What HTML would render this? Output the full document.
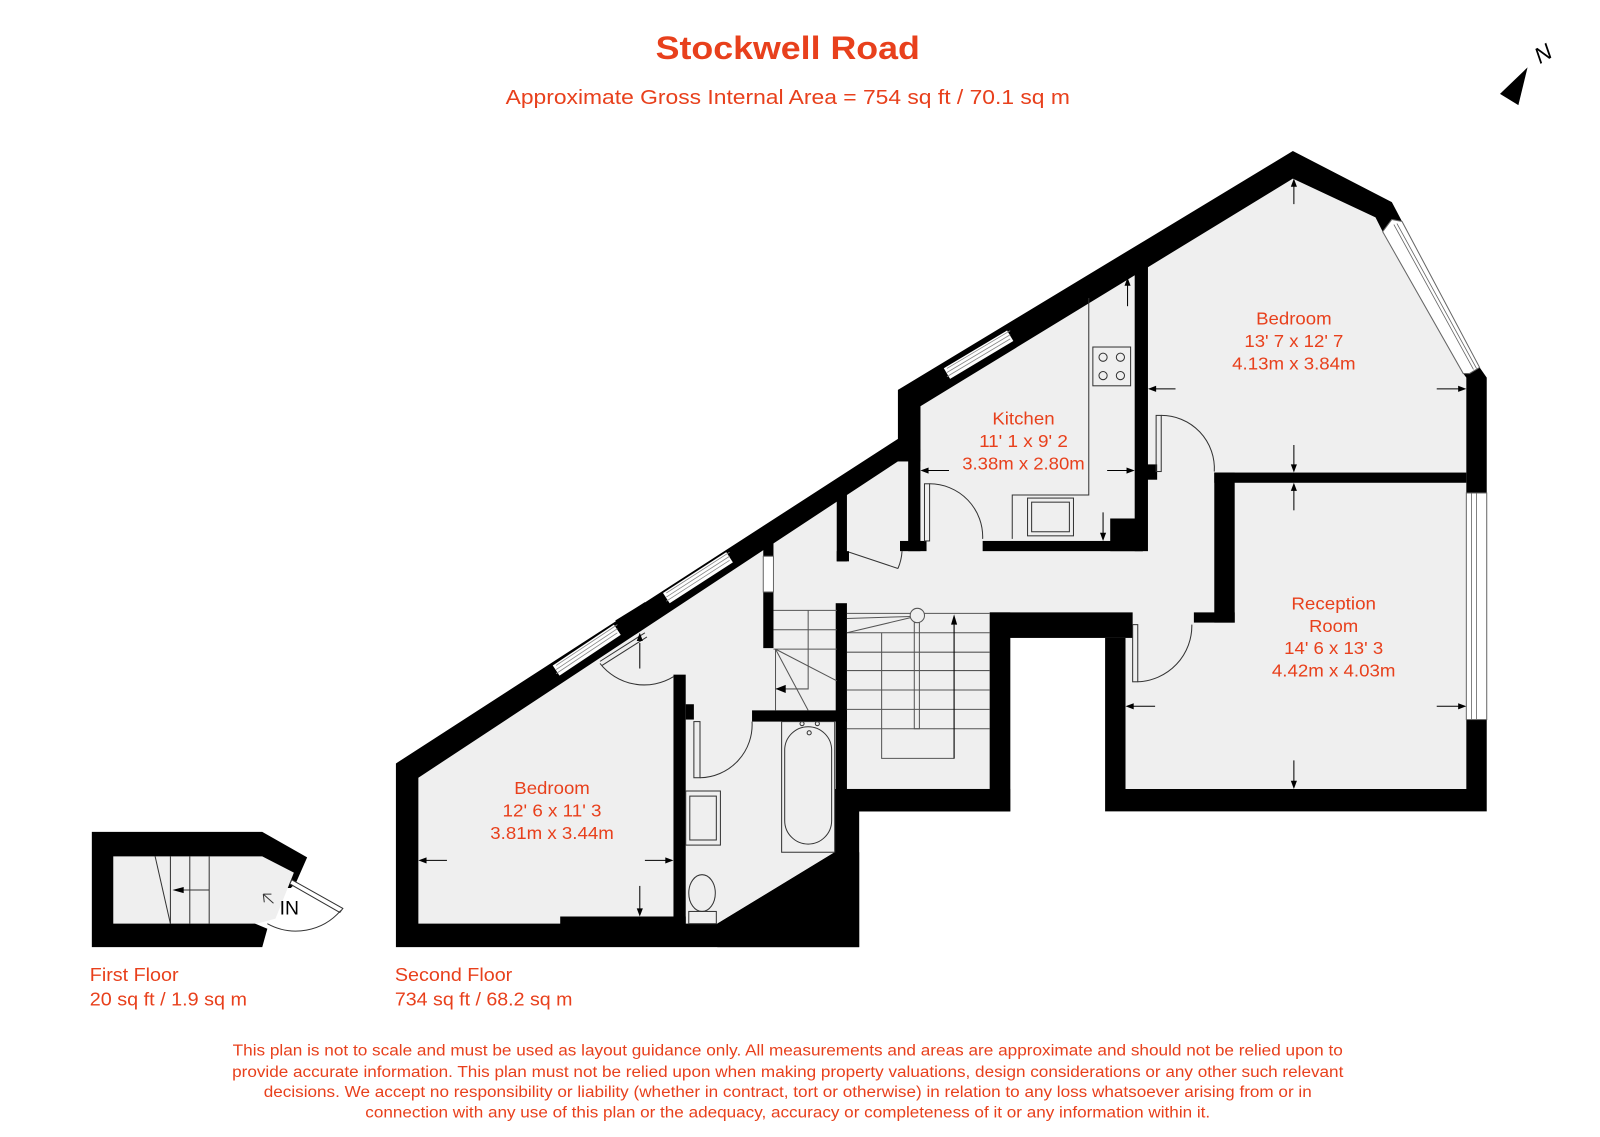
<!DOCTYPE html>
<html><head><meta charset="utf-8"><style>
html,body{margin:0;padding:0;background:#fff;}
svg{display:block;}
text{font-family:"Liberation Sans",sans-serif;fill:#e8401c;}
</style></head><body>
<svg width="1600" height="1137" viewBox="0 0 1568 1114" preserveAspectRatio="none" xmlns="http://www.w3.org/2000/svg">
<rect width="1568" height="1114" fill="#fff"/>
<text x="772" y="58" font-size="32" font-weight="bold" text-anchor="middle" textLength="259" lengthAdjust="spacingAndGlyphs">Stockwell Road</text>
<text x="772" y="102" font-size="20" text-anchor="middle" textLength="553" lengthAdjust="spacingAndGlyphs">Approximate Gross Internal Area = 754 sq ft / 70.1 sq m</text>
<polygon points="1470,92 1497,66 1488,103" fill="#000"/>
<text x="1512" y="60" font-size="22" font-style="italic" style="fill:#000" text-anchor="middle" transform="rotate(-30 1512 52)">N</text>

<polygon fill="#000" points="388,928 842,928 842,795 990,795 990,625 1083,625 1083,795 1457,795 1457,370 1450,360 1374,217 1364,198 1267,148 880,382 880,430 388,748"/>
<polygon fill="#efefef" points="410,905 410,762 880,452 902,452 902,398 1267,175 1348,213 1355,227 1434,366 1437,370 1437,773 1103,773 1103,625 970,625 970,773 830,773 818,773 818,835 703,905 672,905 672,898 549,898 549,905"/>
<g fill="#000">
<rect x="880" y="382" width="22" height="70"/>
<rect x="890" y="440" width="12" height="100"/>
<rect x="820" y="483" width="10" height="67"/>
<rect x="820" y="540" width="12" height="10"/>
<rect x="882" y="530" width="26" height="10"/>
<rect x="963" y="530" width="157" height="10"/>
<rect x="1088" y="508" width="32" height="32"/>
<rect x="1112" y="258" width="13" height="282"/>
<rect x="1120" y="455" width="14" height="15"/>
<rect x="1190" y="463" width="247" height="10"/>
<rect x="1190" y="463" width="20" height="147"/>
<rect x="1170" y="600" width="40" height="10"/>
<rect x="970" y="600" width="140" height="25"/>
<rect x="970" y="600" width="20" height="195"/>
<rect x="830" y="773" width="160" height="22"/>
<rect x="819" y="591" width="11" height="204"/>
<rect x="748" y="580" width="10" height="55"/>
<rect x="748" y="528" width="10" height="17"/>
<rect x="737" y="696" width="93" height="11"/>
<rect x="660" y="661" width="12" height="244"/>
<rect x="672" y="690" width="8" height="15"/>
<polygon points="703,905 818,835 842,835 842,928 703,928"/>
<polygon points="603,608 632,590 640,603 630,612 612,622"/>
</g>
<g stroke-linecap="butt">
<line x1="545" y1="657" x2="605" y2="617" stroke="#fff" stroke-width="12"/>
<line x1="545" y1="652" x2="605" y2="612" stroke="#888" stroke-width="0.8"/>
<line x1="545" y1="656" x2="605" y2="616" stroke="#888" stroke-width="0.8"/>
<line x1="545" y1="660" x2="605" y2="620" stroke="#888" stroke-width="0.8"/>
<line x1="653" y1="586" x2="715" y2="546" stroke="#fff" stroke-width="12"/>
<line x1="653" y1="581" x2="715" y2="541" stroke="#888" stroke-width="0.8"/>
<line x1="653" y1="585" x2="715" y2="545" stroke="#888" stroke-width="0.8"/>
<line x1="653" y1="589" x2="715" y2="549" stroke="#888" stroke-width="0.8"/>
<line x1="928" y1="366" x2="990" y2="329" stroke="#fff" stroke-width="12"/>
<line x1="928" y1="361" x2="990" y2="324" stroke="#888" stroke-width="0.8"/>
<line x1="928" y1="365" x2="990" y2="328" stroke="#888" stroke-width="0.8"/>
<line x1="928" y1="369" x2="990" y2="332" stroke="#888" stroke-width="0.8"/>
</g>
<polygon points="1364,215 1374,217 1450,360 1440,366 1434,366 1355,227" fill="#fff" stroke="#666" stroke-width="1"/>
<line x1="1366" y1="220" x2="1444" y2="362" stroke="#666" stroke-width="0.8"/>
<line x1="1369" y1="219" x2="1447" y2="361" stroke="#666" stroke-width="0.8"/>
<rect x="1437" y="483" width="20" height="222" fill="#fff" stroke="#666" stroke-width="1"/>
<line x1="1442" y1="483" x2="1442" y2="705" stroke="#666" stroke-width="0.8"/>
<line x1="1447" y1="483" x2="1447" y2="705" stroke="#666" stroke-width="0.8"/>
<rect x="748" y="545" width="10" height="35" fill="#fff" stroke="#666" stroke-width="1"/>

<g fill="none" stroke="#333" stroke-width="1">
<polyline points="1067,292 1067,485 992,485 992,528"/>
<rect x="1071" y="340" width="37" height="38"/>
<circle cx="1081" cy="350" r="4"/><circle cx="1098" cy="350" r="4"/>
<circle cx="1081" cy="368" r="4"/><circle cx="1098" cy="368" r="4"/>
<rect x="1007" y="488" width="45" height="37"/>
<rect x="1011" y="492" width="37" height="29"/>
<rect x="906" y="474" width="5" height="56"/>
<path d="M911,474 A52,52 0 0 1 963,528"/>
<line x1="832" y1="541" x2="880" y2="557"/>
<path d="M880,557 A50,50 0 0 0 884,540"/>
<rect x="1133" y="407" width="5" height="55"/>
<path d="M1138,407 A52,52 0 0 1 1190,462"/>
<rect x="1110" y="612" width="5" height="56"/>
<path d="M1115,668 A55,55 0 0 0 1168,612"/>
<line x1="588" y1="648" x2="632" y2="620"/><line x1="590" y1="652" x2="634" y2="624"/>
<path d="M588,650 A55,55 0 0 0 660,663"/>
<rect x="680" y="707" width="6" height="55"/>
<path d="M686,762 A52,52 0 0 0 737,707"/>
<rect x="766" y="707" width="52" height="128"/>
<rect x="769" y="712" width="46" height="115" rx="23"/>
<circle cx="786" cy="709" r="2"/><circle cx="801" cy="709" r="2"/><circle cx="793" cy="718" r="2"/>
<rect x="672" y="775" width="34" height="53"/>
<rect x="676" y="780" width="26" height="43"/>
<ellipse cx="688" cy="875" rx="13" ry="18"/>
<rect x="675" y="893" width="27" height="12"/>
<g stroke="#555">
<line x1="830" y1="601" x2="970" y2="601"/>
<line x1="830" y1="606" x2="893" y2="604"/>
<line x1="830" y1="620" x2="893" y2="605"/>
<line x1="830" y1="620" x2="970" y2="620"/>
<line x1="830" y1="639" x2="970" y2="639"/>
<line x1="830" y1="657" x2="970" y2="657"/>
<line x1="830" y1="676" x2="970" y2="676"/>
<line x1="830" y1="695" x2="970" y2="695"/>
<line x1="830" y1="714" x2="970" y2="714"/>
<polyline points="864,620 864,743 935,743 935,612"/>
<rect x="896" y="610" width="5" height="104"/>
<circle cx="899" cy="603" r="7" fill="#efefef"/>
<line x1="758" y1="598" x2="820" y2="598"/>
<line x1="758" y1="617" x2="820" y2="617"/>
<line x1="758" y1="636" x2="820" y2="636"/>
<polyline points="792,598 792,675 760,675"/>
<line x1="760" y1="636" x2="820" y2="667"/>
<line x1="760" y1="636" x2="792" y2="696"/>
<line x1="760" y1="636" x2="760" y2="696"/>
</g>
<g stroke="#000">
<line x1="1268" y1="178" x2="1268" y2="200"/><line x1="1268" y1="436" x2="1268" y2="460"/>
<line x1="1127" y1="381" x2="1152" y2="381"/><line x1="1408" y1="381" x2="1434" y2="381"/>
<line x1="1268" y1="476" x2="1268" y2="500"/><line x1="1268" y1="745" x2="1268" y2="770"/>
<line x1="1106" y1="692" x2="1132" y2="692"/><line x1="1408" y1="692" x2="1434" y2="692"/>
<line x1="905" y1="461" x2="930" y2="461"/><line x1="1085" y1="461" x2="1110" y2="461"/>
<line x1="1105" y1="275" x2="1105" y2="300"/><line x1="1081" y1="502" x2="1081" y2="527"/>
<line x1="413" y1="843" x2="438" y2="843"/><line x1="632" y1="843" x2="658" y2="843"/>
<line x1="627" y1="868" x2="627" y2="895"/><line x1="627" y1="630" x2="627" y2="655"/>
<line x1="935" y1="612" x2="935" y2="743"/>
</g>
</g>
<g fill="#000">
<polygon points="1268,175 1265,183 1271,183"/><polygon points="1268,463 1265,455 1271,455"/>
<polygon points="1125,381 1133,378 1133,384"/><polygon points="1437,381 1429,378 1429,384"/>
<polygon points="1268,473 1265,481 1271,481"/><polygon points="1268,773 1265,765 1271,765"/>
<polygon points="1103,692 1111,689 1111,695"/><polygon points="1437,692 1429,689 1429,695"/>
<polygon points="902,461 910,458 910,464"/><polygon points="1112,461 1104,458 1104,464"/>
<polygon points="1105,272 1102,280 1108,280"/><polygon points="1081,530 1078,522 1084,522"/>
<polygon points="410,843 418,840 418,846"/><polygon points="660,843 652,840 652,846"/>
<polygon points="627,898 624,890 630,890"/><polygon points="627,620 624,628 630,628"/>
<polygon points="935,602 932,612 938,612"/><polygon points="760,675 770,671 770,679"/>
</g>

<polygon fill="#000" points="90,815 257,815 301,840 290,865 285,870 270,870 270,880 250,905 262,910 257,928 90,928"/>
<polygon fill="#efefef" points="111,839 257,839 288,855 270,900 252,905 111,905"/>
<g fill="none" stroke="#333" stroke-width="1">
<line x1="152" y1="839" x2="167" y2="905"/>
<line x1="167" y1="839" x2="167" y2="905"/>
<line x1="186" y1="839" x2="186" y2="905"/>
<line x1="205" y1="839" x2="205" y2="905"/>
<line x1="175" y1="872" x2="205" y2="872"/>
<polygon points="286,862 336,890 333,894 284,866" fill="#fff"/>
<path d="M334,892 A58,58 0 0 1 262,905"/>
<path d="M268,885 L258,876 M258,876 L266,876 M258,876 L259,884" />
</g>
<polygon points="169,872 180,869 180,875" fill="#000"/>
<text x="274" y="896" font-size="19" style="fill:#000">IN</text>

<g font-size="17" text-anchor="middle" lengthAdjust="spacingAndGlyphs">
<text x="1268" y="318" textLength="74" lengthAdjust="spacingAndGlyphs">Bedroom</text>
<text x="1268" y="340" textLength="97" lengthAdjust="spacingAndGlyphs">13' 7 x 12' 7</text>
<text x="1268" y="362" textLength="121" lengthAdjust="spacingAndGlyphs">4.13m x 3.84m</text>
<text x="1003" y="416" textLength="61" lengthAdjust="spacingAndGlyphs">Kitchen</text>
<text x="1003" y="438" textLength="87" lengthAdjust="spacingAndGlyphs">11' 1 x 9' 2</text>
<text x="1003" y="460" textLength="120" lengthAdjust="spacingAndGlyphs">3.38m x 2.80m</text>
<text x="1307" y="597" textLength="83" lengthAdjust="spacingAndGlyphs">Reception</text>
<text x="1307" y="619" textLength="48" lengthAdjust="spacingAndGlyphs">Room</text>
<text x="1307" y="641" textLength="97" lengthAdjust="spacingAndGlyphs">14' 6 x 13' 3</text>
<text x="1307" y="663" textLength="121" lengthAdjust="spacingAndGlyphs">4.42m x 4.03m</text>
<text x="541" y="778" textLength="74" lengthAdjust="spacingAndGlyphs">Bedroom</text>
<text x="541" y="800" textLength="97" lengthAdjust="spacingAndGlyphs">12' 6 x 11' 3</text>
<text x="541" y="822" textLength="121" lengthAdjust="spacingAndGlyphs">3.81m x 3.44m</text>
</g>
<g font-size="18">
<text x="88" y="961" textLength="87" lengthAdjust="spacingAndGlyphs">First Floor</text>
<text x="88" y="985" textLength="154" lengthAdjust="spacingAndGlyphs">20 sq ft / 1.9 sq m</text>
<text x="387" y="961" textLength="115" lengthAdjust="spacingAndGlyphs">Second Floor</text>
<text x="387" y="985" textLength="174" lengthAdjust="spacingAndGlyphs">734 sq ft / 68.2 sq m</text>
</g>
<g font-size="15" text-anchor="middle">
<text x="772" y="1034" textLength="1088" lengthAdjust="spacingAndGlyphs">This plan is not to scale and must be used as layout guidance only. All measurements and areas are approximate and should not be relied upon to</text>
<text x="772" y="1055" textLength="1089" lengthAdjust="spacingAndGlyphs">provide accurate information. This plan must not be relied upon when making property valuations, design considerations or any other such relevant</text>
<text x="772" y="1075" textLength="1027" lengthAdjust="spacingAndGlyphs">decisions. We accept no responsibility or liability (whether in contract, tort or otherwise) in relation to any loss whatsoever arising from or in</text>
<text x="772" y="1095" textLength="828" lengthAdjust="spacingAndGlyphs">connection with any use of this plan or the adequacy, accuracy or completeness of it or any information within it.</text>
</g>
</svg>
</body></html>
